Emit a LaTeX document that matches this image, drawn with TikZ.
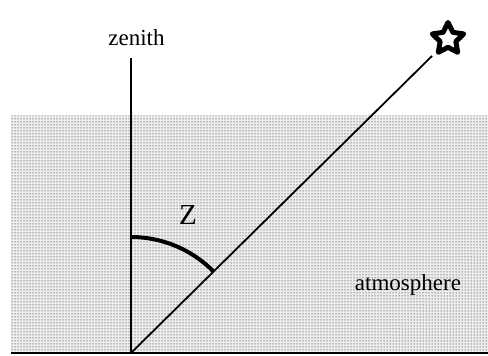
\documentclass[tikz,border=0pt]{standalone}
\usepackage{fontspec}
\setmainfont{Liberation Serif}
\usetikzlibrary{patterns,shapes.geometric}

\begin{document}
\begin{tikzpicture}[x=1pt,y=1pt,
  txt/.style={font=\fontsize{23}{26}\selectfont, anchor=base, inner sep=0pt},
  ray/.style={line width=1.8pt},
  airfill/.style={pattern=dots, pattern color=black}]
\useasboundingbox (0,0) rectangle (488,356);
% atmosphere layer
\fill[black!7] (11,2) rectangle (488,240);
\fill[airfill] (11,2) rectangle (488,240);
\coordinate (gl) at (11,3);
\coordinate (gr) at (488,3);
\coordinate (o) at (131,3);
\coordinate (top) at (131,298);
\coordinate (tip) at (432,300);
\node[star, star points=5, star point ratio=2, draw, line width=5pt,
      line join=round, minimum size=33pt, inner sep=0pt] (star) at (448,317) {};
\node[txt] (zen) at (136.5,310) {zenith};
\node[txt, font=\fontsize{29}{32}\selectfont] (z) at (188,131) {Z};
\node[txt] (atm) at (408,65) {atmosphere};
% ground, zenith and line of sight
\draw[line width=2.5pt] (gl) -- (gr);
\draw[ray] (o) -- (top);
\draw[ray] (o) -- (tip);
\draw[line width=4pt] (o) ++(90:116) arc[start angle=90, end angle=44.6, radius=116];
\end{tikzpicture}
\end{document}
